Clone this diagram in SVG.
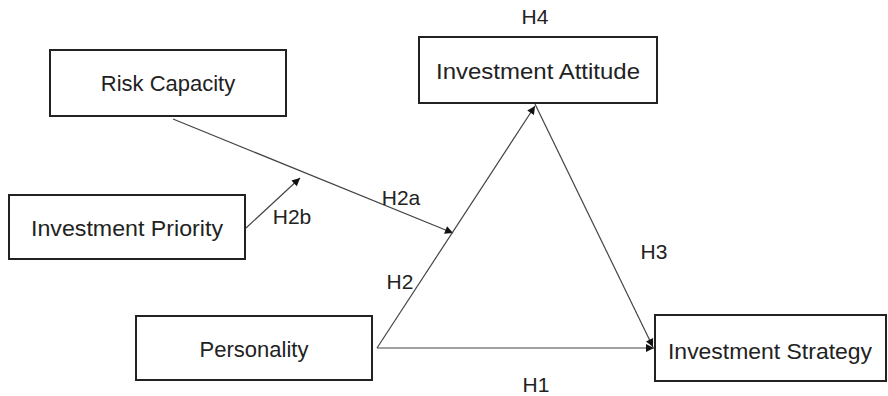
<svg xmlns="http://www.w3.org/2000/svg" width="888" height="396" viewBox="0 0 888 396">
<style>
.box{fill:#fff;stroke:#222;stroke-width:2}
.t{font-family:"Liberation Sans",Arial,sans-serif;font-size:22px;fill:#222;text-anchor:middle}
.l{font-family:"Liberation Sans",Arial,sans-serif;font-size:21px;fill:#222;text-anchor:middle}
.c{stroke:#444;stroke-width:1.2;fill:none;marker-end:url(#ah)}
</style>
<defs>
<marker id="ah" viewBox="0 0 10 10" refX="10" refY="5" markerWidth="10" markerHeight="8" markerUnits="userSpaceOnUse" orient="auto">
<path d="M0,0 L10,5 L0,10 z" fill="#111"/>
</marker>
</defs>
<rect width="888" height="396" fill="#fff"/>
<g id="connectors">
<line class="c" x1="173" y1="119" x2="453" y2="233"/>
<line class="c" x1="246" y1="228" x2="300" y2="178"/>
<line class="c" x1="377" y1="348" x2="535" y2="106"/>
<line class="c" x1="377" y1="348" x2="654" y2="348"/>
<line class="c" x1="535" y1="104" x2="653" y2="347"/>
</g>
<g id="labels">
<text class="l" x="535" y="24">H4</text>
<text class="l" x="401" y="205">H2a</text>
<text class="l" x="292" y="224">H2b</text>
<text class="l" x="400" y="289">H2</text>
<text class="l" x="654" y="259">H3</text>
<text class="l" x="536" y="392">H1</text>
</g>
<g id="risk-capacity">
<rect class="box" x="50" y="50" width="236" height="66"/>
<text class="t" x="168" y="91">Risk Capacity</text>
</g>
<g id="investment-attitude">
<rect class="box" x="419" y="37" width="238" height="66"/>
<text class="t" x="538" y="79" textLength="204" lengthAdjust="spacingAndGlyphs">Investment Attitude</text>
</g>
<g id="investment-priority">
<rect class="box" x="9" y="195" width="236" height="64"/>
<text class="t" x="127" y="236" textLength="192" lengthAdjust="spacingAndGlyphs">Investment Priority</text>
</g>
<g id="personality">
<rect class="box" x="136" y="316" width="236" height="64"/>
<text class="t" x="254" y="357">Personality</text>
</g>
<g id="investment-strategy">
<rect class="box" x="655" y="315" width="231" height="66"/>
<text class="t" x="770" y="359" textLength="204" lengthAdjust="spacingAndGlyphs">Investment Strategy</text>
</g>
</svg>
